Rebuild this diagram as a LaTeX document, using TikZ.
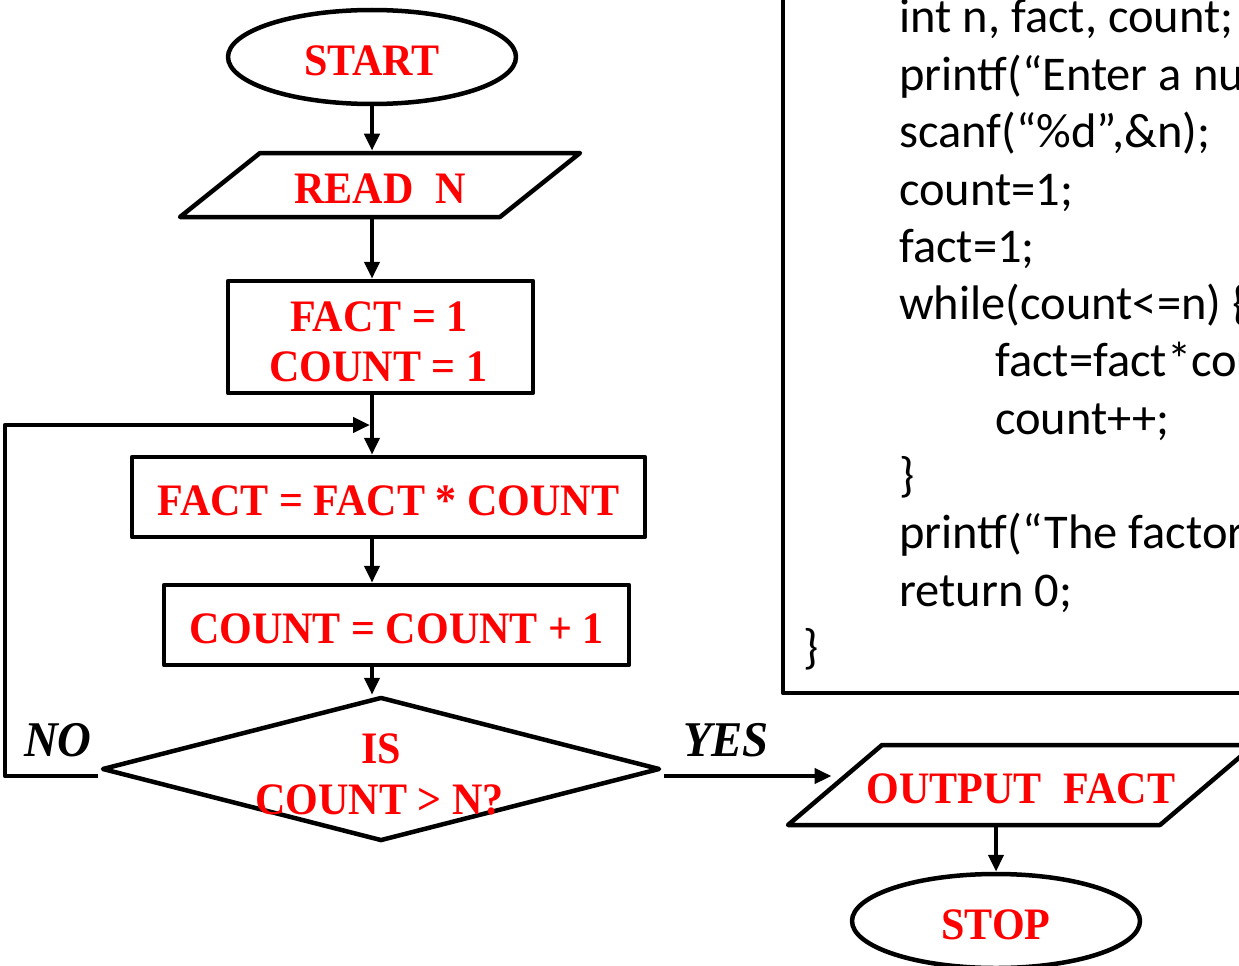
\documentclass[tikz,border=0pt]{standalone}
\usepackage{fontspec}
\setmainfont{Liberation Serif}
\newfontfamily\flowfont{Liberation Serif}[FakeStretch=0.935]
\newfontfamily\codefont{Carlito}
\usetikzlibrary{shapes.geometric,arrows.meta}

\begin{document}
\begin{tikzpicture}[x=1pt,y=-1pt,
  line width=4.5pt, line join=round,
  flow/.style={font=\flowfont\fontsize{45}{50}\selectfont\bfseries, text=red, inner sep=0pt,
               text height=36pt, text depth=0pt},
  flowline/.style={font=\flowfont\fontsize{45}{50}\selectfont\bfseries, text=red, inner sep=0pt, anchor=base},
  terminal/.style={flow, draw, ellipse, minimum width=288pt, minimum height=94pt},
  process/.style={flow, draw, rectangle},
  io/.style={flow, draw, trapezium, inner xsep=0pt},
  decision/.style={draw, diamond, inner sep=0pt, minimum width=558pt, minimum height=144pt},
  arrow/.style={-{Triangle[length=17pt,width=15pt]}},
  answer/.style={font=\flowfont\fontsize{50}{54}\selectfont\bfseries\itshape, inner sep=0pt},
  code/.style={font=\codefont\fontsize{48.5}{57}\selectfont, anchor=base west, inner sep=0pt},
]
\useasboundingbox (0,0) rectangle (1239,966);
\clip (0,0) rectangle (1239,966);

% ---- flowchart ----
\node[terminal] (start) at (372,57) {START};
\node[io, text width=240pt, inner ysep=14pt,
      trapezium left angle=38.66, trapezium right angle=141.34] (read) at (380,185)
      {\makebox[240pt]{READ\hspace{22pt}N}};
\node[draw, rectangle, minimum width=305pt, minimum height=112pt] (init) at (380.5,337) {};
\node[flowline] (init1) at (379,331) {FACT = 1};
\node[flowline] (init2) at (378.5,381) {COUNT = 1};
\node[process, minimum width=513pt, minimum height=80pt] (mul) at (388.5,497) {FACT = FACT * COUNT};
\node[process, minimum width=465pt, minimum height=80pt] (inc) at (396.5,625) {COUNT = COUNT + 1};
\node[decision] (d) at (381,769) {};
\node[flowline] (d1) at (381,763) {IS};
\node[flowline] (d2) at (379.5,814) {COUNT > N?};
\node[io, text width=278pt, inner ysep=22pt,
      trapezium left angle=40.4, trapezium right angle=139.6] (out) at (1021,785)
      {\makebox[278pt]{OUTPUT\hspace{22pt}FACT}};
\node[terminal] (stop) at (996,921) {STOP};

\node[answer] (no) at (58,740) {NO};
\node[answer] (yes) at (726,740) {YES};

% ---- connectors ----
\coordinate (bend) at (5,425);
\draw[arrow] (start.south) -- (start.south |- read.north);
\draw[arrow] (start.south |- read.south) -- (start.south |- init.north);
\draw[arrow] (start.south |- init.south) -- (start.south |- mul.north);
\draw[arrow] ([shift={(-2pt,-7pt)}]d.west) -| (bend) -- ([xshift=-2pt]start.south |- bend);
\draw[arrow] (start.south |- mul.south) -- (start.south |- inc.north);
\draw[arrow] (start.south |- inc.south) -- (start.south |- d.north);
\draw[arrow] ([shift={(2pt,-7pt)}]d.east) -- (out.west |- 0,776);
\draw[arrow] (stop.north |- out.south) -- (stop.north);

% ---- program listing ----
\draw (783,-20) rectangle (1300,693);
\node[code] (c1) at (897,33) {int n, fact, count;};
\node[code] (c2) at (897,90) {printf(“Enter a number: ”);};
\node[code] (c3) at (897,147) {scanf(“\%d”,\&n);};
\node[code] (c4) at (897,205) {count=1;};
\node[code] (c5) at (897,262) {fact=1;};
\node[code] (c6) at (897,319) {while(count<=n) \{};
\node[code] (c7) at (993,376) {fact=fact*count;};
\node[code] (c8) at (993,434) {count++;};
\node[code] (c9) at (897,491) {\}};
\node[code] (c10) at (897,548) {printf(“The factorial of \%d is \%d”, n, fact);};
\node[code] (c11) at (897,606) {return 0;};
\node[code] (c12) at (801,663) {\}};
\end{tikzpicture}
\end{document}
